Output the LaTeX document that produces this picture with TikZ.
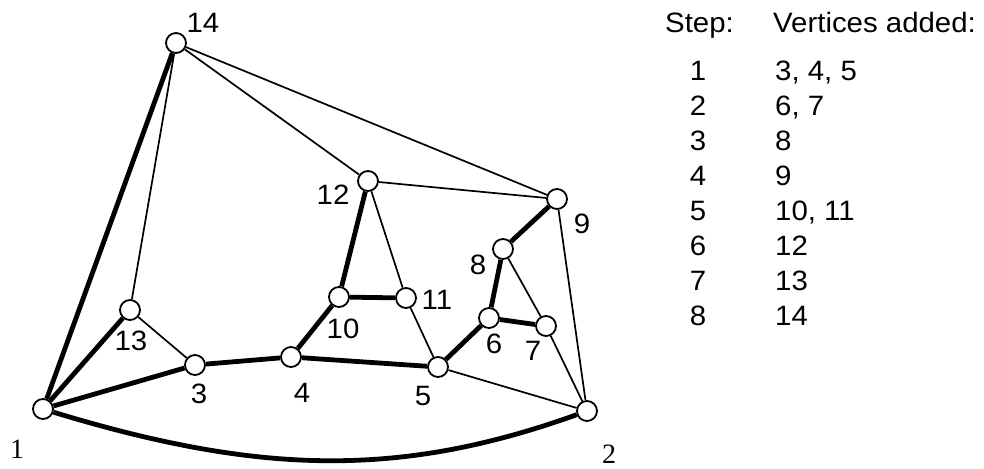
\documentclass[tikz,border=0pt]{standalone}
\usepackage{fontspec}
\setmainfont[FakeStretch=1.05]{Liberation Sans}
\newfontfamily\serifnum{Liberation Serif}
\usetikzlibrary{positioning}

\begin{document}
\begin{tikzpicture}[x=1pt, y=-1pt,
      vtx/.style={circle, draw, fill=white, minimum size=20pt, inner sep=0pt,
                  line width=1.8pt},
      heavy/.style={line width=4.8pt},
      light/.style={line width=1.7pt},
      lbl/.style={inner sep=0pt, font=\fontsize{28}{32}\selectfont},
      rlbl/.style={inner sep=0pt, font=\fontsize{28}{32}\selectfont\serifnum}]
    \useasboundingbox (0,0) rectangle (984,468);

    % vertices
    \node[vtx] (v1)  at (43,409)  {};
    \node[vtx] (v2)  at (587,411) {};
    \node[vtx] (v3)  at (195,365) {};
    \node[vtx] (v4)  at (291,357) {};
    \node[vtx] (v5)  at (438,367) {};
    \node[vtx] (v6)  at (489,318) {};
    \node[vtx] (v7)  at (546,326) {};
    \node[vtx] (v8)  at (503,249) {};
    \node[vtx] (v9)  at (557,199) {};
    \node[vtx] (v10) at (339,297) {};
    \node[vtx] (v11) at (406,298) {};
    \node[vtx] (v12) at (368,181) {};
    \node[vtx] (v13) at (130,310) {};
    \node[vtx] (v14) at (176,43)  {};

    % vertex numbers
    \node[rlbl] (n1)  at (17,449)  {1};
    \node[rlbl] (n2)  at (609,454) {2};
    \node[lbl]  (n3)  at (199,394) {3};
    \node[lbl]  (n4)  at (302,393) {4};
    \node[lbl]  (n5)  at (423,396) {5};
    \node[lbl]  (n6)  at (494,344) {6};
    \node[lbl]  (n7)  at (533,351) {7};
    \node[lbl]  (n8)  at (478,265) {8};
    \node[lbl]  (n9)  at (582,224) {9};
    \node[lbl]  (n10) at (343,329) {10};
    \node[lbl]  (n11) at (437,300) {11};
    \node[lbl]  (n12) at (333,195) {12};
    \node[lbl]  (n13) at (131,341) {13};
    \node[lbl]  (n14) at (203,23)  {14};

    % thin edges
    \draw[light] (v14) -- (v13);
    \draw[light] (v14) -- (v12);
    \draw[light] (v14) -- (v9);
    \draw[light] (v12) -- (v9);
    \draw[light] (v12) -- (v11);
    \draw[light] (v11) -- (v5);
    \draw[light] (v13) -- (v3);
    \draw[light] (v8) -- (v7);
    \draw[light] (v7) -- (v2);
    \draw[light] (v9) -- (v2);
    \draw[light] (v5) -- (v2);

    % thick edges
    \draw[heavy] (v1) -- (v14);
    \draw[heavy] (v1) -- (v13);
    \draw[heavy] (v1) -- (v3);
    \draw[heavy] (v3) -- (v4);
    \draw[heavy] (v4) -- (v5);
    \draw[heavy] (v5) -- (v6);
    \draw[heavy] (v6) -- (v8);
    \draw[heavy] (v8) -- (v9);
    \draw[heavy] (v6) -- (v7);
    \draw[heavy] (v4) -- (v10);
    \draw[heavy] (v10) -- (v11);
    \draw[heavy] (v10) -- (v12);
    \draw[heavy] (v1) .. controls (260,475) and (400,478) .. (v2);

    % table
    \node[lbl, anchor=base west] (steph) at (665,33) {Step:};
    \node[lbl, anchor=base west] (verth) at (773,33) {Vertices added:};
    \foreach \s/\v [count=\i from 0] in {1/{3, 4, 5}, 2/{6, 7}, 3/8, 4/9,
                                         5/{10, 11}, 6/12, 7/13, 8/14} {
      \node[lbl, anchor=base] (s\s) at (698,81+34.9*\i) {\s};
      \node[lbl, anchor=base west] (a\s) at (775,81+34.9*\i) {\v};
    }
\end{tikzpicture}
\end{document}
